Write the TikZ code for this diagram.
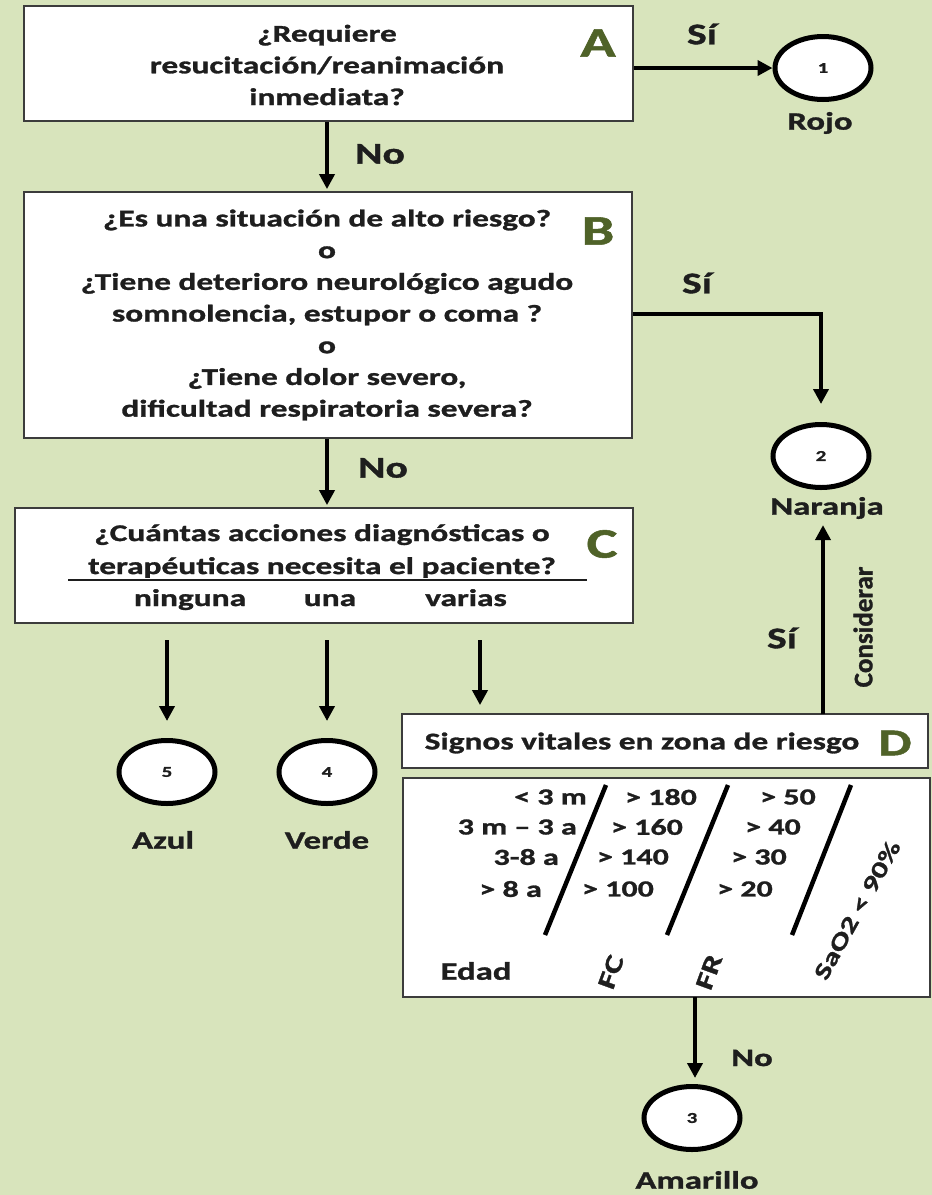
\documentclass[tikz,border=0pt]{standalone}
\usepackage{fontspec}
\setmainfont{Carlito}[FakeStretch=1.39, BoldFeatures={FakeBold=1.2}]
\newfontfamily\plainfont{Carlito}[BoldFeatures={FakeBold=1.2}]
\usetikzlibrary{shapes.geometric,arrows.meta}
\definecolor{bgc}{HTML}{D8E4BC}
\definecolor{olive}{HTML}{4F6228}
\definecolor{txtc}{HTML}{1E1E1E}
\definecolor{boxc}{HTML}{3C3C3C}
\newcommand{\fs}[2]{\fontsize{#1}{#2}\selectfont\bfseries}
\begin{document}
\begin{tikzpicture}[x=1pt,y=-1pt,
  box/.style={draw=boxc, line width=1.8pt, fill=white, inner sep=0pt},
  txt/.style={font=\fs{24}{31.7}, text=txtc, align=center, inner sep=0pt},
  lbl/.style={font=\fs{30}{34}, text=txtc, inner sep=0pt},
  clab/.style={font=\fs{25}{28}, text=txtc, inner sep=0pt},
  letter/.style={font=\fs{42}{44}, text=olive, inner sep=0pt},
  tab/.style={font=\fs{23}{26}, text=txtc, inner sep=0pt},
  arr/.style={line width=4.5pt, draw=black, -{Triangle[length=15pt,width=15pt]}},
  circ/.style={ellipse, draw=black, line width=5pt, fill=white, minimum width=96pt, minimum height=63pt, inner sep=0pt, font=\fs{15}{16}, text=txtc},
  slant/.style={line width=4.5pt, draw=black}
]
\fill[bgc] (0,0) rectangle (932,1195);
\useasboundingbox (0,0) rectangle (932,1195);

% Box A
\node[box, minimum width=609pt, minimum height=115pt] (A) at (328.5,63.5) {};
\node[txt] (At) at (327,65) {¿Requiere\\resucitación/reanimación\\inmediata?};
\node[letter] (Al) at (598,43) {A};
\node[circ] (c1) at (823,68) {1};
\node[clab] (l1) at (820,123) {Rojo};

% Box B
\node[box, minimum width=608pt, minimum height=246pt] (B) at (328,315) {};
\node[txt] (Bt) at (327,315) {¿Es una situación de alto riesgo?\\o\\¿Tiene deterioro neurológico agudo\\somnolencia, estupor o coma ?\\o\\¿Tiene dolor severo,\\dificultad respiratoria severa?};
\node[letter] (Bl) at (598,231) {B};
\node[circ] (c2) at (821,456) {2};
\node[clab] (l2) at (827,508) {Naranja};

% Box C
\node[box, minimum width=618pt, minimum height=115pt] (C) at (324,565.5) {};
\node[txt, font=\fs{24}{33}] (Ct) at (322,551) {¿Cuántas acciones diagnósticas o\\terapéuticas necesita el paciente?};
\node[letter] (Cl) at (602,544) {C};
\coordinate (u1) at (68,580);
\coordinate (u2) at (587,580);
\draw[line width=1.5pt, draw=txtc] (u1) -- (u2);
\node[txt, anchor=base] (o1) at (190,606) {ninguna};
\node[txt, anchor=base] (o2) at (330,606) {una};
\node[txt, anchor=base] (o3) at (466,606) {varias};

% D title and table
\node[box, minimum width=526pt, minimum height=54pt] (Dt) at (665,741) {};
\node[txt] (Dtt) at (642,743) {Signos vitales en zona de riesgo};
\node[letter, font=\fs{38}{40}] (Dl) at (895,743) {D};
\node[box, minimum width=527pt, minimum height=219pt] (T) at (666.5,887.5) {};

% table contents
\node[tab, anchor=east] (r1) at (587,797) {< 3 m};
\node[tab, anchor=east] (r2) at (577,827) {3 m – 3 a};
\node[tab, anchor=east] (r3) at (559,857) {3-8 a};
\node[tab, anchor=east] (r4) at (542,889) {> 8 a};
\node[tab] (f1) at (661,797) {> 180};
\node[tab] (f2) at (647,827) {> 160};
\node[tab] (f3) at (633,857) {> 140};
\node[tab] (f4) at (618,889) {> 100};
\node[tab] (g1) at (788,797) {> 50};
\node[tab] (g2) at (773,827) {> 40};
\node[tab] (g3) at (759,857) {> 30};
\node[tab] (g4) at (745,889) {> 20};
\coordinate (s1a) at (606,785); \coordinate (s1b) at (545,935);
\coordinate (s2a) at (728,785); \coordinate (s2b) at (667,935);
\coordinate (s3a) at (851,785); \coordinate (s3b) at (792,935);
\draw[slant] (s1a) -- (s1b);
\draw[slant] (s2a) -- (s2b);
\draw[slant] (s3a) -- (s3b);
\node[tab, font=\fs{25}{28}] (ed) at (476,971) {Edad};
\node[tab, font=\fs{25}{28}, rotate=70] (fc) at (611,972) {FC};
\node[tab, font=\fs{25}{28}, rotate=70] (fr) at (709,972) {FR};
\node[tab, rotate=61] (sa) at (857,910) {SaO2 < 90\%};

% circles below C
\node[circ] (c5) at (167,772) {5};
\node[clab] (l5) at (163,840) {Azul};
\node[circ] (c4) at (327,772) {4};
\node[clab] (l4) at (327,840) {Verde};
\node[circ] (c3) at (692,1118) {3};
\node[clab] (l3) at (697,1180) {Amarillo};

% connectors
\draw[arr] (A.east |- c1) -- (c1.west);
\node[lbl] (si1) at (702,34) {Sí};
\draw[arr, shorten >=2pt] (A.south -| At) -- (At |- B.north);
\node[lbl] (no1) at (380,154) {No};

\coordinate (bk) at (823,314);
\draw[arr, shorten >=18pt] (B.east |- bk) -| (c2.north);
\node[lbl] (si2) at (697,283) {Sí};
\draw[arr, shorten >=2pt] (B.south -| At) -- (At |- C.north);
\node[lbl] (no2) at (383,468) {No};

\coordinate (s5) at (167,640);
\coordinate (s4) at (327,640);
\coordinate (s6) at (480,640);
\draw[arr, shorten >=17pt] (s5) -- (c5.north);
\draw[arr, shorten >=17pt] (s4) -- (c4.north);
\draw[arr, shorten >=8pt] (s6) -- (s6 |- Dt.north);

\coordinate (dk) at (823,714);
\draw[arr, shorten >=6pt] (dk) -- (dk |- l2.south);
\node[lbl] (si3) at (782,638) {Sí};
\node[font=\plainfont\bfseries\fontsize{27}{30}\selectfont, text=txtc, rotate=90, inner sep=0pt] (cons) at (863,627) {Considerar};

\coordinate (tk) at (695,997);
\draw[arr, shorten >=6pt] (tk) -- (tk |- c3.north);
\node[lbl, font=\fs{25}{28}] (no3) at (752,1058) {No};
\end{tikzpicture}
\end{document}
